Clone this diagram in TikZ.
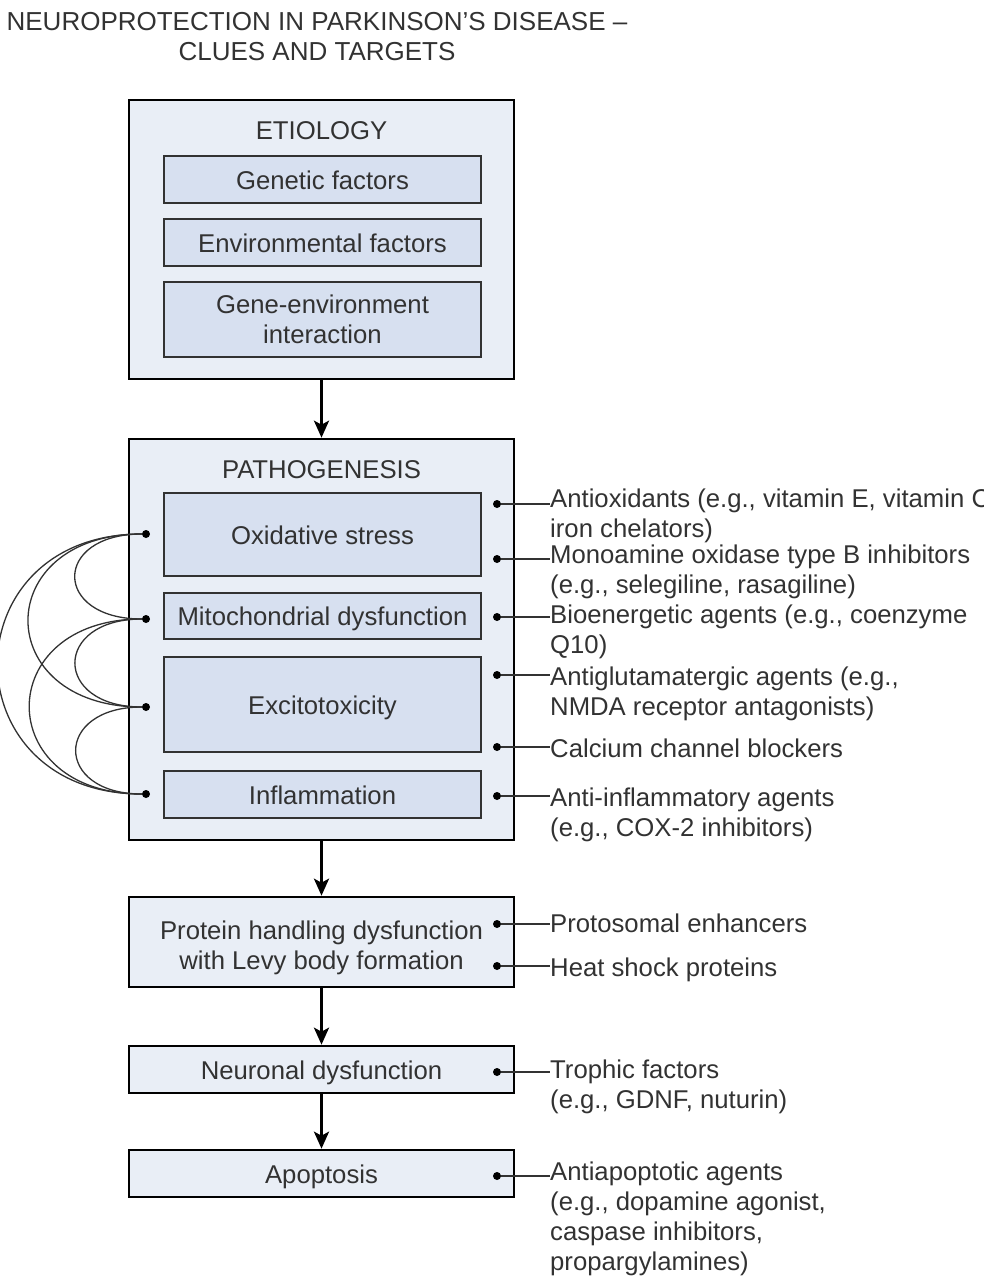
\documentclass[tikz,border=0pt]{standalone}
\usepackage{fontspec}
\setmainfont{Liberation Sans}
\usetikzlibrary{arrows.meta}

\definecolor{outerfill}{RGB}{233,238,246}
\definecolor{innerfill}{RGB}{215,224,240}
\definecolor{inkgray}{RGB}{50,50,50}
\newcommand{\labfont}{\fontsize{25.7}{30}\selectfont}
\newcommand{\headfont}{\fontsize{26}{30}\selectfont}

\tikzset{
	every node/.style={font=\labfont, text=inkgray},
	outerbox/.style={draw=black, line width=2.6pt, fill=outerfill, minimum width=385pt, inner sep=0pt, align=center},
	innerbox/.style={draw=inkgray, line width=1.6pt, fill=innerfill, minimum width=317pt, inner sep=0pt, align=center},
	oneline/.style={text height=22pt, text depth=3pt},
	dot/.style={circle, fill=black, inner sep=0pt, minimum size=8pt},
	agent/.style={anchor=base west, inner sep=0pt, align=left},
	flow/.style={line width=3pt, -{Stealth[length=17pt,width=15pt,inset=4pt]}},
	tie/.style={line width=1.4pt, draw=inkgray},
	link/.style={out=180, in=180, line width=1.3pt, draw=inkgray},
}

\begin{document}
\begin{tikzpicture}[x=1pt,y=-1pt]
			\useasboundingbox (0,0) rectangle (984,1278);

			% title
			\node	(title) at (317,37) [align=center, font=\headfont] {NEUROPROTECTION IN PARKINSON'S DISEASE --\\CLUES AND TARGETS};

			% etiology
			\node	(etio) at (321.5,239.5) [outerbox, minimum height=279pt] {};
			\node	(etiohead) at (321.5,131) {ETIOLOGY};
			\node	(gen) at (322.5,179.5) [innerbox, oneline, minimum height=47pt] {Genetic factors};
			\node	(env) at (322.5,242.5) [innerbox, oneline, minimum height=47pt] {Environmental factors};
			\node	(geneenv) at (322.5,319.5) [innerbox, minimum height=75pt] {Gene-environment\\interaction};

			% pathogenesis
			\node	(patho) at (321.5,639.5) [outerbox, minimum height=401pt] {};
			\node	(pathohead) at (321.5,470) {PATHOGENESIS};
			\node	(oxid) at (322.5,534.5) [innerbox, oneline, minimum height=83pt] {Oxidative stress};
			\node	(mito) at (322.5,616) [innerbox, oneline, minimum height=46pt] {Mitochondrial dysfunction};
			\node	(excito) at (322.5,704.5) [innerbox, oneline, minimum height=95pt] {Excitotoxicity};
			\node	(inflam) at (322.5,794.5) [innerbox, oneline, minimum height=47pt] {Inflammation};

			% later stages
			\node	(protein) at (321.5,942) [outerbox, minimum height=90pt, text height=60pt, text depth=5pt] {Protein handling dysfunction\\with Levy body formation};
			\node	(neuron) at (321.5,1069.5) [outerbox, oneline, minimum height=47pt] {Neuronal dysfunction};
			\node	(apop) at (321.5,1173.5) [outerbox, oneline, minimum height=47pt] {Apoptosis};

			\draw 
			(etio) edge[flow] (patho) 
			(patho) edge[flow] (protein)
			(protein) edge[flow] (neuron)
			(neuron) edge[flow] (apop)
			;

			% links between the mechanisms
			\node	(l1) at (146,534) [dot] {};
			\node	(l2) at (146,619) [dot] {};
			\node	(l3) at (146,707) [dot] {};
			\node	(l4) at (146,794) [dot] {};

			\draw 
			(l1) edge[link, looseness=2.7] (l2)
			(l2) edge[link, looseness=2.6] (l3)
			(l3) edge[link, looseness=2.6] (l4)
			(l1) edge[link, looseness=2.25] (l3)
			(l2) edge[link, looseness=2.2] (l4)
			(l1) edge[link, looseness=1.9] (l4)
			;

			% targets (text nodes sit on the baseline of their last line)
			\node	(r1) at (497,504) [dot] {};
			\node	(r2) at (497,559) [dot] {};
			\node	(r3) at (497,617) [dot] {};
			\node	(r4) at (497,675) [dot] {};
			\node	(r5) at (497,747) [dot] {};
			\node	(r6) at (497,796) [dot] {};
			\node	(r7) at (497,924) [dot] {};
			\node	(r8) at (497,966) [dot] {};
			\node	(r9) at (497,1072) [dot] {};
			\node	(r10) at (497,1176) [dot] {};

			\node	(t1) at (550,537) [agent] {Antioxidants (e.g., vitamin E, vitamin C,\\iron chelators)};
			\node	(t2) at (550,593) [agent] {Monoamine oxidase type B inhibitors\\(e.g., selegiline, rasagiline)};
			\node	(t3) at (550,653) [agent] {Bioenergetic agents (e.g., coenzyme\\Q10)};
			\node	(t4) at (550,715) [agent] {Antiglutamatergic agents (e.g.,\\NMDA receptor antagonists)};
			\node	(t5) at (550,757) [agent] {Calcium channel blockers};
			\node	(t6) at (550,836) [agent] {Anti-inflammatory agents\\(e.g., COX-2 inhibitors)};
			\node	(t7) at (550,932) [agent] {Protosomal enhancers};
			\node	(t8) at (550,976) [agent] {Heat shock proteins};
			\node	(t9) at (550,1108) [agent] {Trophic factors\\(e.g., GDNF, nuturin)};
			\node	(t10) at (550,1270) [agent] {Antiapoptotic agents\\(e.g., dopamine agonist,\\caspase inhibitors,\\propargylamines)};

			\foreach \i in {1,...,10}
				\draw[tie] (r\i) -- (r\i -| t\i.west);
		\end{tikzpicture}
\end{document}
